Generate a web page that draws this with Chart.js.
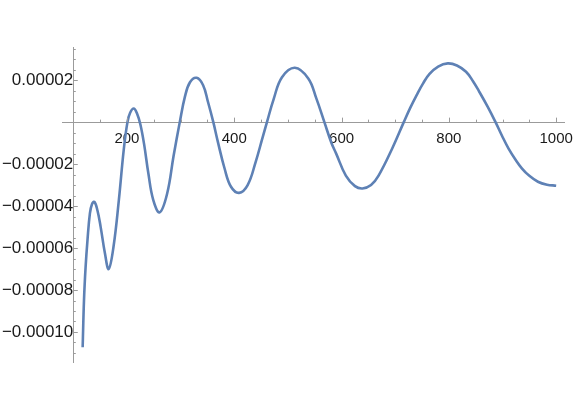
<!DOCTYPE html>
<html>
<head>
<meta charset="utf-8">
<script src="https://cdn.jsdelivr.net/npm/chart.js@4"></script>
<style>
  html, body { margin: 0; padding: 0; background: #fff; }
</style>
</head>
<body>
<canvas id="myChart" width="581" height="411"></canvas>
<script>

// curve
const xs = [117.5, 120, 123, 126.5, 131, 135, 139.5, 145, 151, 159, 166, 175, 185, 194,
  201, 206, 213, 219, 225, 232, 240, 249, 261, 275, 287, 298.5,
  308, 317.5, 330, 342, 351, 361, 369.5, 382, 394, 409, 425, 440, 452, 461,
  473.5, 489, 513, 538, 553, 568, 581, 590, 608, 625, 639, 655, 669, 694, 716,
  728, 740, 752, 764, 780, 798, 815, 832, 845, 856, 872, 887,
  899, 911, 924, 936, 950, 966, 983, 1000];
const ys = [-10.73e-5, -8.48e-5, -6.90e-5, -5.62e-5, -4.35e-5, -3.90e-5, -3.80e-5, -4.20e-5,
  -4.99e-5, -6.25e-5, -7.00e-5, -5.94e-5, -3.71e-5, -1.33e-5,
  0, 0.45e-5, 0.65e-5, 0.40e-5, -0.10e-5, -1.05e-5, -2.45e-5, -3.70e-5, -4.30e-5, -3.40e-5,
  -1.60e-5, 0,
  1.20e-5, 1.90e-5, 2.11e-5, 1.76e-5, 0.97e-5, 0, -0.94e-5, -2.21e-5, -3.08e-5, -3.37e-5,
  -3.00e-5, -1.89e-5, -0.81e-5, 0,
  1.10e-5, 2.14e-5, 2.59e-5, 2.08e-5, 1.13e-5, 0, -0.98e-5, -1.50e-5, -2.55e-5, -3.05e-5,
  -3.16e-5, -3.00e-5, -2.55e-5, -1.28e-5, 0,
  0.68e-5, 1.29e-5, 1.85e-5, 2.30e-5, 2.65e-5, 2.80e-5, 2.70e-5, 2.40e-5, 1.95e-5, 1.48e-5,
  0.75e-5, 0,
  -0.65e-5, -1.25e-5, -1.78e-5, -2.20e-5, -2.56e-5, -2.84e-5, -2.98e-5, -3.03e-5];

const xTickLabels = [200, 400, 600, 800, 1000];
const yTickLabels = [0.00002, -0.00002, -0.00004, -0.00006, -0.00008, -0.0001];

const axisColor = '#9b9b9b';
const lineColor = 'rgb(94,129,181)';

// Mathematica-style tick marks drawn inside the axes
const tickMarks = {
  id: 'tickMarks',
  afterDraw(chart) {
    const {ctx, scales: {x, y}} = chart;
    const ax = x.getPixelForValue(100);
    const ay = y.getPixelForValue(0);
    ctx.save();
    ctx.strokeStyle = axisColor;
    ctx.lineWidth = 1;
    ctx.beginPath();
    for (let v = 150; v <= 1000; v += 50) {
      const px = Math.round(x.getPixelForValue(v)) + 0.5;
      const len = v % 200 === 0 ? 4.5 : 2.5;
      ctx.moveTo(px, ay);
      ctx.lineTo(px, ay - len);
    }
    for (let k = -22; k <= 7; k++) {
      if (k === 0) continue;
      const py = Math.round(y.getPixelForValue(k * 5e-6)) + 0.5;
      const len = k % 4 === 0 ? 4.5 : 2.5;
      ctx.moveTo(ax, py);
      ctx.lineTo(ax + len, py);
    }
    ctx.stroke();
    ctx.restore();
  }
};

const ctx = document.getElementById('myChart').getContext('2d');

const chart = new Chart(ctx, {
  type: 'line',
  data: {
    datasets: [{
      data: xs.map((x, i) => ({x: x, y: ys[i]})),
      borderColor: lineColor,
      borderWidth: 2.6,
      pointRadius: 0,
      fill: false,
      tension: 0.4
    }]
  },
  options: {
    responsive: false,
    animation: false,
    devicePixelRatio: 1,
    layout: {
      padding: {left: 62, right: 9, top: 47, bottom: 49}
    },
    plugins: {
      legend: {display: false},
      tooltip: {enabled: false}
    },
    scales: {
      x: {
        type: 'linear',
        min: 79,
        max: 1015,
        position: {y: 0},
        border: {display: true, color: axisColor, width: 1},
        grid: {drawOnChartArea: false, drawTicks: false},
        afterBuildTicks: (scale) => {
          scale.ticks = xTickLabels.map(v => ({value: v}));
        },
        ticks: {
          autoSkip: false,
          maxRotation: 0,
          padding: 8,
          color: '#1a1a1a',
          font: {family: '"Liberation Sans", Arial, sans-serif', size: 15},
          callback: (v) => String(v)
        }
      },
      y: {
        type: 'linear',
        min: -0.0001143,
        max: 0.0000358,
        position: {x: 100},
        border: {display: true, color: axisColor, width: 1},
        grid: {drawOnChartArea: false, drawTicks: false},
        afterBuildTicks: (scale) => {
          scale.ticks = yTickLabels.map(v => ({value: v}));
        },
        ticks: {
          autoSkip: false,
          padding: 4,
          color: '#1a1a1a',
          font: {family: '"Liberation Sans", Arial, sans-serif', size: 17},
          callback: (v) => (v < 0 ? '\u2212' : '') + Math.abs(v).toFixed(5)
        }
      }
    }
  },
  plugins: [tickMarks]
});

</script>
</body>
</html>
